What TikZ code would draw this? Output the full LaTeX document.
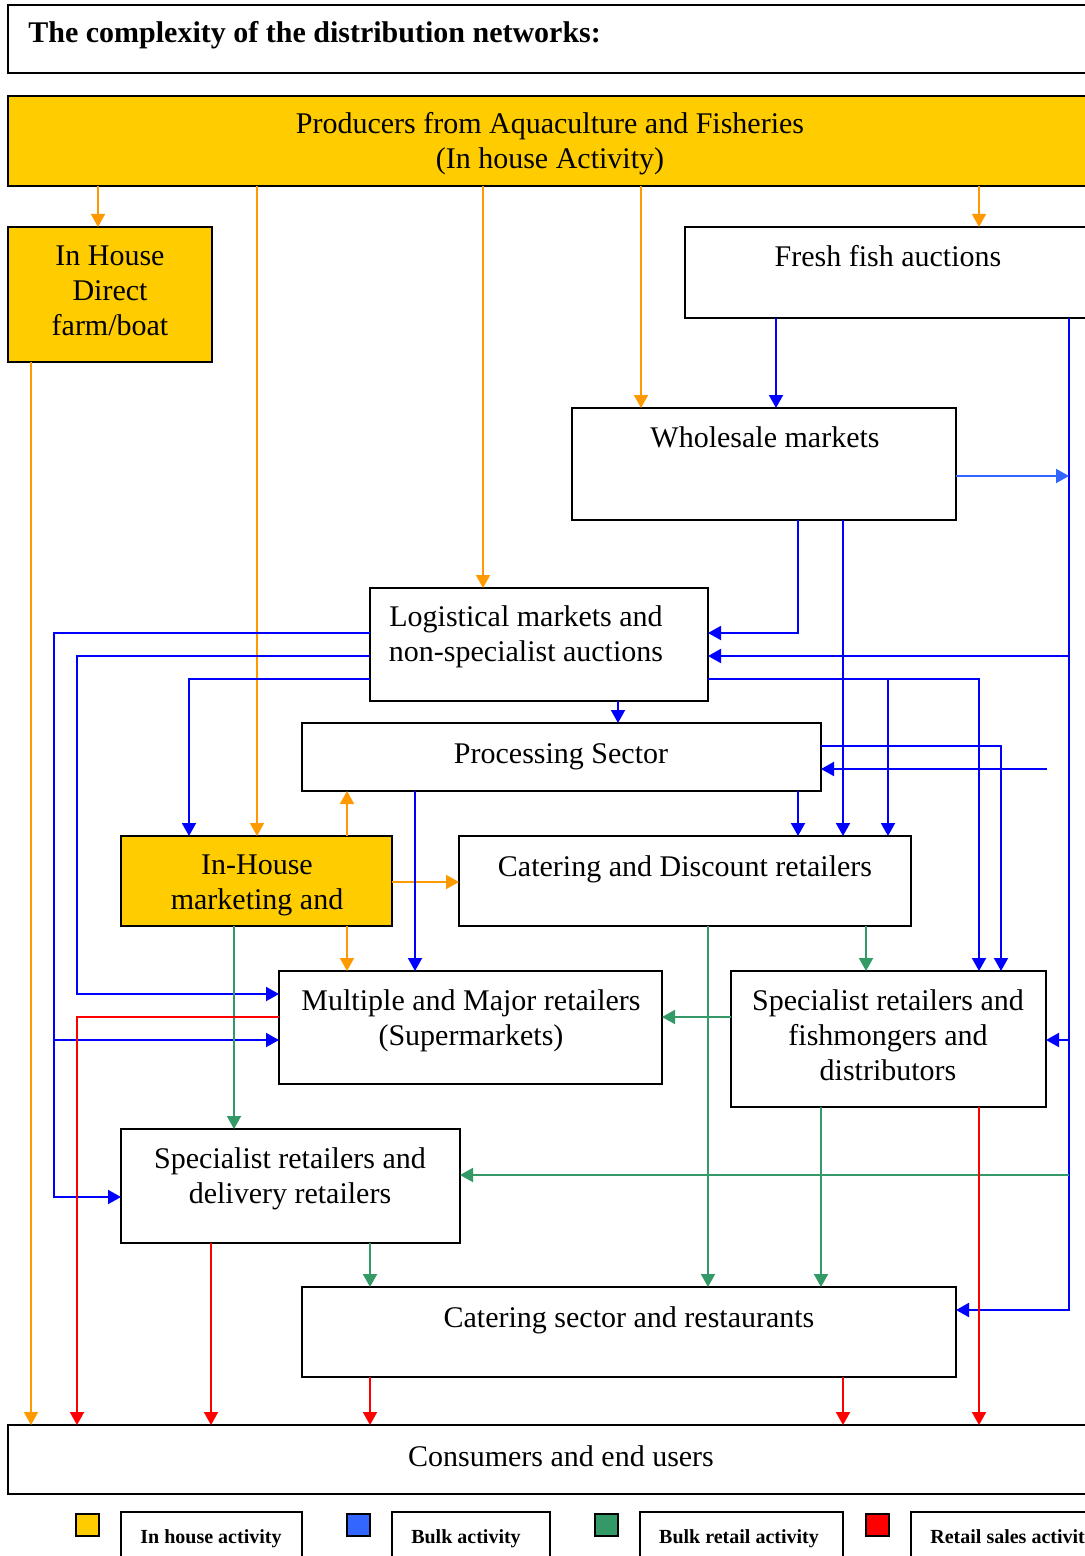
\documentclass[tikz,border=0pt]{standalone}
\usepackage{fontspec}
\setmainfont{Liberation Serif}
\usetikzlibrary{arrows.meta}
\definecolor{ora}{HTML}{FF9900}
\definecolor{yel}{HTML}{FFCC00}
\definecolor{blu}{HTML}{0000FF}
\definecolor{lblu}{HTML}{3366FF}
\definecolor{grn}{HTML}{339966}
\definecolor{rd}{HTML}{FF0000}
\tikzset{
  bx/.style={draw=black, line width=1.1pt, anchor=north west, inner sep=0pt, outer sep=0pt, fill=white},
  ybx/.style={bx, fill=yel},
  txt/.style={anchor=north, inner sep=0pt, align=center, font=\fontsize{15}{17.5}\selectfont},
  legtxt/.style={anchor=base, inner sep=0pt, font=\fontsize{10}{12}\selectfont\bfseries},
  conn/.style={line width=1pt, -{Triangle[length=6.5pt,width=7pt]}},
  oc/.style={conn, draw=ora, line width=0.8pt},
  bc/.style={conn, draw=blu},
  lbc/.style={conn, draw=lblu},
  gc/.style={conn, draw=grn},
  rc/.style={conn, draw=rd},
}
\newcommand\mybox[6]{\node[#6, minimum width={(#4-#2)*0.5pt}, minimum height={(#5-#3)*0.5pt}] (#1) at (#2,#3) {};}
\begin{document}
\begin{tikzpicture}[x=0.5pt,y=-0.5pt]
\useasboundingbox (0,0) rectangle (1085,1556);
\clip (0,0) rectangle (1085,1556);
% boxes
\mybox{title}{8}{5}{1100}{73}{bx}
\mybox{prod}{8}{96}{1100}{186}{ybx}
\mybox{dir}{8}{227}{212}{362}{ybx}
\mybox{fresh}{685}{227}{1100}{318}{bx}
\mybox{whole}{572}{408}{956}{520}{bx}
\mybox{log}{370}{588}{708}{701}{bx}
\mybox{proc}{302}{723}{821}{791}{bx}
\mybox{mkt}{121}{836}{392}{926}{ybx}
\mybox{disc}{459}{836}{911}{926}{bx}
\mybox{multi}{279}{971}{662}{1084}{bx}
\mybox{fish}{731}{971}{1046}{1107}{bx}
\mybox{deliv}{121}{1129}{460}{1243}{bx}
\mybox{cat}{302}{1287}{956}{1377}{bx}
\mybox{cons}{8}{1425}{1100}{1494}{bx}
% texts
\node[anchor=base west, inner sep=0pt, font=\fontsize{15}{17.5}\selectfont\bfseries] (title-t) at (28,43) {The complexity of the distribution networks:};
\node[txt] (prod-t) at (550,108.5) {\strut Producers from Aquaculture and Fisheries\\(In house Activity)};
\node[txt] (dir-t) at (110,240.5) {\strut In House\\Direct\\farm/boat};
\node[txt] (fresh-t) at (888,241.5) {\strut Fresh fish auctions};
\node[txt] (whole-t) at (765,422.5) {\strut Wholesale markets};
\node[txt] (log-t) at (526,601.5) {\strut Logistical markets and\\non-specialist auctions};
\node[txt] (proc-t) at (561,738.5) {\strut Processing Sector};
\node[txt] (mkt-t) at (257,849.5) {\strut In-House\\marketing and};
\node[txt] (disc-t) at (685,851.5) {\strut Catering and Discount retailers};
\node[txt] (multi-t) at (471,985.5) {\strut Multiple and Major retailers\\(Supermarkets)};
\node[txt] (fish-t) at (888,985.5) {\strut Specialist retailers and\\fishmongers and\\distributors};
\node[txt] (deliv-t) at (290,1143.5) {\strut Specialist retailers and\\delivery retailers};
\node[txt] (cat-t) at (629,1302.5) {\strut Catering sector and restaurants};
\node[txt] (cons-t) at (561,1441.5) {\strut Consumers and end users};
% orange connectors
\draw[oc] (98,0 |- prod.south) -- (98,0 |- dir.north);
\draw[oc] (257,0 |- prod.south) -- (257,0 |- mkt.north);
\draw[oc] (483,0 |- prod.south) -- (483,0 |- log.north);
\draw[oc] (641,0 |- prod.south) -- (641,0 |- whole.north);
\draw[oc] (979,0 |- prod.south) -- (979,0 |- fresh.north);
\draw[oc] (31,0 |- dir.south) -- (31,0 |- cons.north);
\draw[oc] (347,0 |- mkt.north) -- (347,0 |- proc.south);
\draw[oc] (mkt.east |- 0,882) -- (disc.west |- 0,882);
\draw[oc] (347,0 |- mkt.south) -- (347,0 |- multi.north);
% blue connectors
\coordinate (busW) at (1069,476);
\coordinate (bus656) at (1069,656);
\coordinate (bus1040) at (1069,1040);
\coordinate (bus1175) at (1069,1175);
\coordinate (free769) at (1047,769);
\coordinate (j679) at (888,679);
\coordinate (j1040) at (54,1040);
\draw[bc] (776,0 |- fresh.south) -- (776,0 |- whole.north);
\draw[bc] (1069,0 |- fresh.south) |- (cat.east |- 0,1310);
\draw[lbc] (whole.east |- busW) -- (busW);
\draw[bc] (798,0 |- whole.south) |- (log.east |- 0,633);
\draw[bc] (843,0 |- whole.south) -- (843,0 |- disc.north);
\draw[bc] (bus656) -- (log.east |- bus656);
\draw[bc] (log.east |- 0,679) -| (979,0 |- fish.north);
\draw[bc] (j679) -- (j679 |- disc.north);
\draw[bc] (618,0 |- log.south) -- (618,0 |- proc.north);
\draw[bc] (log.west |- 0,633) -| (54,1197) -- (deliv.west |- 0,1197);
\draw[bc] (j1040) -- (multi.west |- j1040);
\draw[bc] (log.west |- 0,656) -| (77,994) -- (multi.west |- 0,994);
\draw[bc] (log.west |- 0,679) -| (189,0 |- mkt.north);
\draw[bc] (proc.east |- 0,746) -| (1001,0 |- fish.north);
\draw[bc] (free769) -- (proc.east |- free769);
\draw[bc] (415,0 |- proc.south) -- (415,0 |- multi.north);
\draw[bc] (798,0 |- proc.south) -- (798,0 |- disc.north);
\draw[bc] (bus1040) -- (fish.east |- bus1040);
% green connectors
\draw[gc] (234,0 |- mkt.south) -- (234,0 |- deliv.north);
\draw[gc] (708,0 |- disc.south) -- (708,0 |- cat.north);
\draw[gc] (866,0 |- disc.south) -- (866,0 |- fish.north);
\draw[gc] (fish.west |- 0,1017) -- (multi.east |- 0,1017);
\draw[gc] (821,0 |- fish.south) -- (821,0 |- cat.north);
\draw[gc] (bus1175) -- (deliv.east |- bus1175);
\draw[gc] (370,0 |- deliv.south) -- (370,0 |- cat.north);
% red connectors
\draw[rc] (multi.west |- 0,1017) -| (77,0 |- cons.north);
\draw[rc] (211,0 |- deliv.south) -- (211,0 |- cons.north);
\draw[rc] (370,0 |- cat.south) -- (370,0 |- cons.north);
\draw[rc] (843,0 |- cat.south) -- (843,0 |- cons.north);
\draw[rc] (979,0 |- fish.south) -- (979,0 |- cons.north);
% legend
\mybox{sw1}{76}{1514}{99}{1536}{bx, fill=yel}
\mybox{sw2}{347}{1514}{370}{1536}{bx, fill=lblu}
\mybox{sw3}{595}{1514}{618}{1536}{bx, fill=grn}
\mybox{sw4}{866}{1514}{889}{1536}{bx, fill=rd}
\mybox{lg1}{121}{1512}{302}{1580}{bx}
\mybox{lg2}{392}{1512}{550}{1580}{bx}
\mybox{lg3}{640}{1512}{843}{1580}{bx}
\mybox{lg4}{911}{1512}{1100}{1580}{bx}
\node[legtxt] (lg1-t) at (211,1543) {In house activity};
\node[legtxt] (lg2-t) at (466,1543) {Bulk activity};
\node[legtxt] (lg3-t) at (739,1543) {Bulk retail activity};
\node[legtxt, anchor=base west] (lg4-t) at (930,1543) {Retail sales activity};
\end{tikzpicture}
\end{document}
